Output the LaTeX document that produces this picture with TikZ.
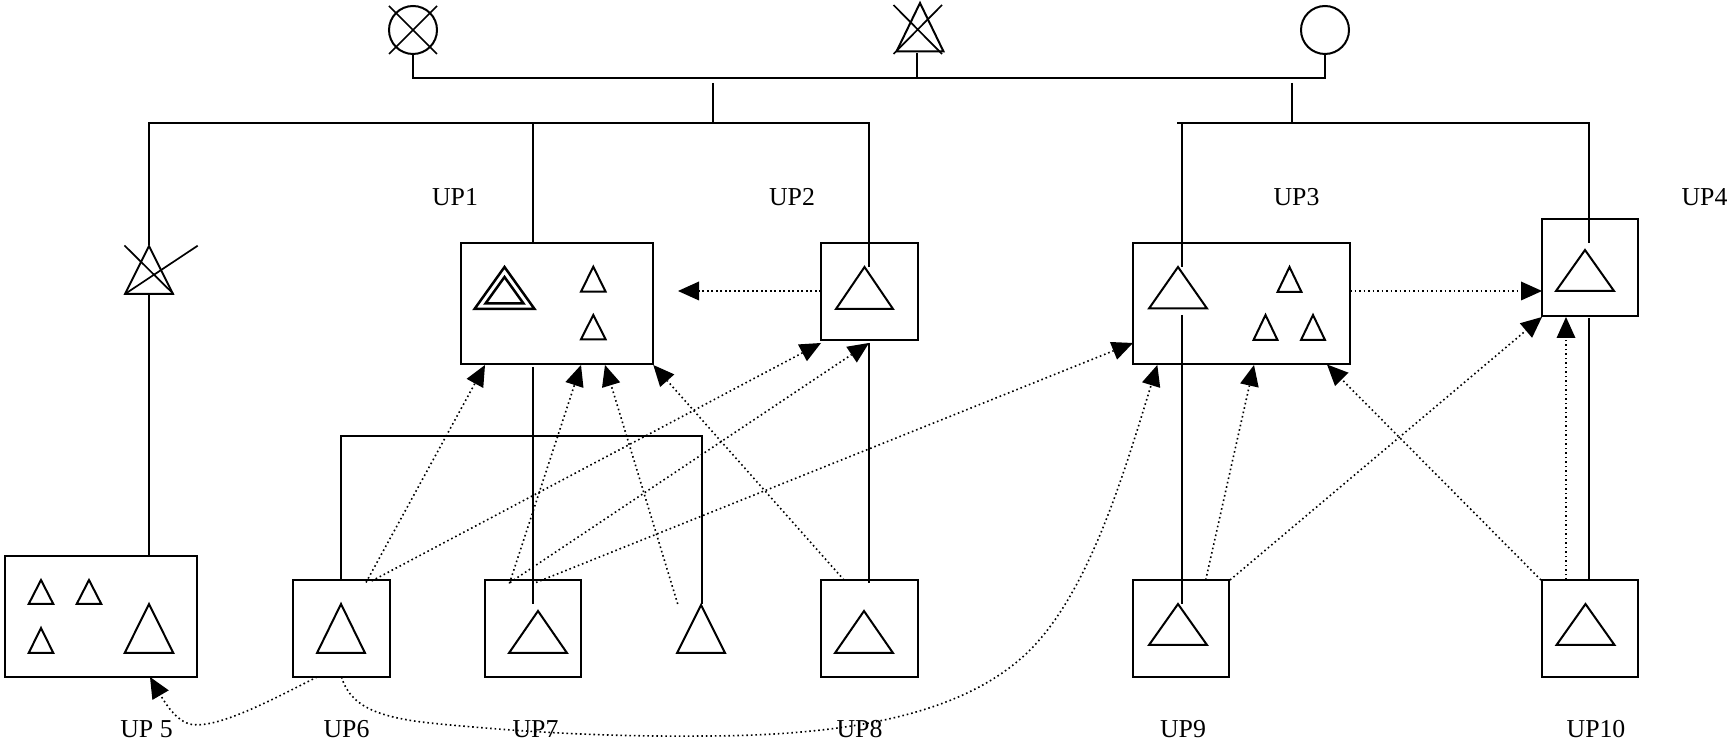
\documentclass[tikz,border=0pt]{standalone}
\usepackage{fontspec}
\setmainfont{Liberation Serif}
\usetikzlibrary{arrows.meta}
\tikzset{
  x=0.5pt,y=-0.5pt,
  ln/.style={line width=1pt,line cap=butt},
  boxn/.style n args={2}{draw,line width=1pt,inner sep=0pt,outer sep=0pt,minimum width=#1*0.5pt,minimum height=#2*0.5pt},
  tr/.style={draw,line width=1pt,line join=miter},
  tb/.style={draw,line width=1.25pt,line join=miter},
  dot/.style={line width=0.8pt,dash pattern=on 0.8pt off 1.45pt},
  arr/.style={dot,-{Triangle[length=10.5pt,width=9.5pt,fill=black,line width=0pt,sep=0pt]}},
  lab/.style={anchor=base,font=\fontsize{12.9pt}{14pt}\selectfont,inner sep=0pt},
  symb/.style={draw,circle,line width=1pt,inner sep=0pt,outer sep=0pt,minimum size=24pt}
}
\newcommand{\tri}[4]{\draw[tr] (#1,#2) -- (#1-#4,#3) -- (#1+#4,#3) -- cycle;}
\begin{document}
\begin{tikzpicture}
\useasboundingbox (0,0) rectangle (1730,742);
% top symbols
\node[symb] (c1) at (413,30) {};
\draw[line width=0.85pt] (389,6) -- (437,54) (437,6) -- (389,54);
\node[symb] (c3) at (1325,30) {};
\tri{920}{3}{51.5}{23.5}
\draw[line width=0.85pt] (893.5,5) -- (942,54) (942,5) -- (893.5,54);
\coordinate (t2) at (917,53);
\coordinate (b1) at (413,78);
\coordinate (b2) at (917,78);
\coordinate (b3) at (1325,78);
\draw[ln] (c1.south) -- (b1) -- (b3) -- (c3.south);
\draw[ln] (t2) -- (b2);
% boxes
\node[boxn={192}{121}] (up1) at (557,303.5) {};
\node[boxn={97}{97}] (up2) at (869.5,291.5) {};
\node[boxn={217}{121}] (up3) at (1241.5,303.5) {};
\node[boxn={96}{97}] (up4) at (1590,267.5) {};
\node[boxn={192}{121}] (up5) at (101,616.5) {};
\node[boxn={97}{97}] (up6) at (341.5,628.5) {};
\node[boxn={96}{97}] (up7) at (533,628.5) {};
\node[boxn={97}{97}] (up8) at (869.5,628.5) {};
\node[boxn={96}{97}] (up9) at (1181,628.5) {};
\node[boxn={96}{97}] (up10) at (1590,628.5) {};
% left bus
\coordinate (s1) at (713,83);
\coordinate (s1b) at (713,123);
\coordinate (l1) at (149,123);
\coordinate (l2) at (869,123);
\coordinate (lt) at (149,245);
\coordinate (lb) at (149,294);
\coordinate (u1t) at (533,123);
\draw[ln] (s1) -- (s1b);
\draw[ln] (lt) -- (l1) -- (l2) -- (869,267);
\draw[ln] (u1t) -- (533,243);
% left X triangle
\tri{149}{246}{294}{24}
\draw[line width=0.85pt] (124.5,245.5) -- (173.5,294) (125,294) -- (197.7,245.7);
\draw[ln] (lb) -- (149,556);
% right bus
\coordinate (s2) at (1292,83);
\coordinate (s2b) at (1292,123);
\coordinate (r1) at (1177,123);
\coordinate (r2) at (1589,123);
\draw[ln] (s2) -- (s2b);
\draw[ln] (r1) -- (r2) -- (1589,243);
\draw[ln] (1182,123) -- (1182,267);
\draw[ln] (1182,315) -- (1182,604);
\draw[ln] (1589,318) -- (1589,580);
% frame
\coordinate (f1) at (341,436);
\coordinate (f2) at (702,436);
\draw[ln] (341,580) -- (f1) -- (f2) -- (702,604);
\draw[ln] (533,367) -- (533,604);
\draw[ln] (869,343) -- (869,583);
% triangles up1
\draw[tb] (504.5,267) -- (474.5,309) -- (534.5,309) -- cycle;
\draw[tb] (504.5,277) -- (485.5,303.5) -- (523.5,303.5) -- cycle;
\tri{593.3}{266.7}{291.7}{12.3}
\tri{593.3}{315}{339.3}{12.3}
% up2
\tri{864.5}{267}{309}{28.5}
% up3
\tri{1178}{267}{308.5}{29}
\tri{1289.5}{267}{292}{12}
\tri{1265.5}{315}{340}{12}
\tri{1313}{315}{340}{12}
% up4
\tri{1585}{250}{291}{29}
% up5
\tri{41}{580}{604}{12.3}
\tri{89}{580}{604}{12.3}
\tri{41}{628}{653}{12.3}
\tri{149}{604}{653}{24.3}
% lower
\tri{341}{604}{653}{24}
\tri{538}{611}{653}{29}
\tri{701}{605}{653}{24}
\tri{864}{611}{653}{29}
\tri{1178}{604}{645}{29}
\tri{1585.5}{604}{645}{29}
% dotted arrows
\draw[arr] (up2.west |- 0,291) -- (678,291);
\draw[arr] (up3.east |- 0,291) -- (up4.west |- 0,291);
\draw[arr] (366,582.5) -- (485,365);
\draw[arr] (371.7,581) -- (821,343);
\draw[arr] (509.4,583.5) -- (581,365);
\draw[arr] (510,582.5) -- (869,343);
\draw[arr] (536,582.5) -- (1133,343);
\draw[arr] (677.7,604) -- (605,365);
\draw[arr] (844,580) -- (653.3,365);
\draw[arr] (1205.7,580) -- (1254,365);
\draw[arr] (1230,580) -- (1542,317);
\draw[arr] (1541,580) -- (1327,364.5);
\draw[arr] (1566,580) -- (1566,317);
% curves
\draw[arr] (317,677) .. controls (268,702) and (218,728) .. (192,724.5) .. controls (176,722) and (164,701) .. (150,677);
\draw[arr] (up6.south) .. controls (350,705) and (375,717) .. (430,723) .. controls (510,731) and (600,737) .. (700,736) .. controls (830,736) and (960,720) .. (1030,650) .. controls (1090,590) and (1125,470) .. (1157.3,365);
% labels
\node[lab] (n1) at (455,206) {UP1};
\node[lab] (n2) at (792,206) {UP2};
\node[lab] (n3) at (1296.5,206) {UP3};
\node[lab] (n4) at (1704.5,206) {UP4};
\node[lab] (n5) at (146.5,737.5) {UP 5};
\node[lab] (n6) at (346.5,737.5) {UP6};
\node[lab] (n7) at (535.5,737.5) {UP7};
\node[lab] (n8) at (859.5,737.5) {UP8};
\node[lab] (n9) at (1183,737.5) {UP9};
\node[lab] (n10) at (1596,737.5) {UP10};
\end{tikzpicture}
\end{document}
